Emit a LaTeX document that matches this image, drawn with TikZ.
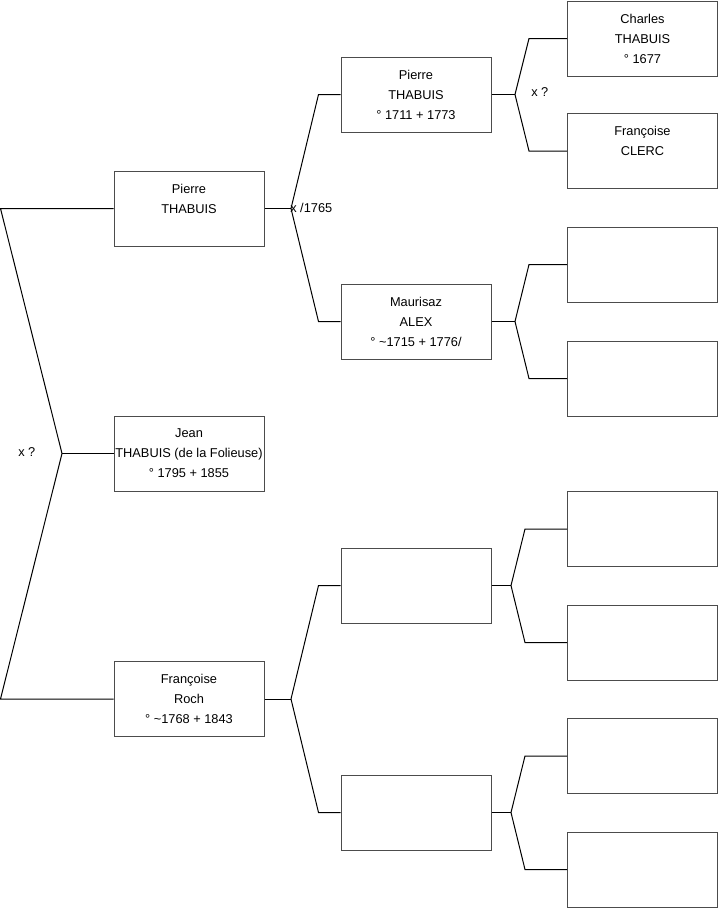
\documentclass[tikz,border=0pt]{standalone}
\usepackage{fontspec}
\setmainfont{Liberation Sans}
\begin{document}
\begin{tikzpicture}[x=.75pt,y=-.75pt,
  person/.style={draw=black!70,line width=.75pt,minimum width=112.5pt,minimum height=56.25pt,
    inner sep=0pt,align=center,font=\fontsize{9.6}{15}\selectfont},
  link/.style={black,line width=.75pt},
  note/.style={anchor=west,inner sep=0pt,font=\fontsize{9.6}{15}\selectfont}]
\useasboundingbox (0,0) rectangle (719,908);
% generation 1
\node[person] (jean) at (189,453.5) {Jean\\THABUIS (de la Folieuse)\\° 1795 + 1855};
% generation 2
\node[person] (pierreA) at (189,208.5) {Pierre\\THABUIS\\\mbox{}};
\node[person] (roch) at (189,699) {Françoise\\Roch\\° \textasciitilde1768 + 1843};
% generation 3
\node[person] (pierreB) at (416,94.5) {Pierre\\THABUIS\\° 1711 + 1773};
\node[person] (alex) at (416,321.5) {Maurisaz\\ALEX\\° \textasciitilde1715 + 1776/};
\node[person] (gpC) at (416,585.5) {};
\node[person] (gpD) at (416,812.5) {};
% generation 4
\node[person] (charles) at (642.5,38.5) {Charles\\THABUIS\\° 1677};
\node[person] (clerc) at (642.5,151) {Françoise\\CLERC\\\mbox{}};
\node[person] (ggpC) at (642.5,264.5) {};
\node[person] (ggpD) at (642.5,378.5) {};
\node[person] (ggpE) at (642.5,529) {};
\node[person] (ggpF) at (642.5,642.5) {};
\node[person] (ggpG) at (642.5,756) {};
\node[person] (ggpH) at (642.5,869.5) {};
% forks
\coordinate (forkJ) at (62,453.5);
\coordinate (forkP) at (291,208.5);
\coordinate (forkR) at (291,699);
\coordinate (forkPB) at (515,94.5);
\coordinate (forkAX) at (515,321.5);
\coordinate (forkC) at (511,585.5);
\coordinate (forkD) at (511,812.5);
\draw[link] (jean.west) -- (forkJ);
\draw[link] (pierreA.west) -- ++(-113,0) -- (forkJ);
\draw[link] (roch.west) -- ++(-113,0) -- (forkJ);
\draw[link] (pierreA.east) -- (forkP);
\draw[link] (pierreB.west) -- ++(-22,0) -- (forkP);
\draw[link] (alex.west) -- ++(-22,0) -- (forkP);
\draw[link] (roch.east) -- (forkR);
\draw[link] (gpC.west) -- ++(-22,0) -- (forkR);
\draw[link] (gpD.west) -- ++(-22,0) -- (forkR);
\draw[link] (pierreB.east) -- (forkPB);
\draw[link] (charles.west) -- ++(-38,0) -- (forkPB);
\draw[link] (clerc.west) -- ++(-38,0) -- (forkPB);
\draw[link] (alex.east) -- (forkAX);
\draw[link] (ggpC.west) -- ++(-38,0) -- (forkAX);
\draw[link] (ggpD.west) -- ++(-38,0) -- (forkAX);
\draw[link] (gpC.east) -- (forkC);
\draw[link] (ggpE.west) -- ++(-42,0) -- (forkC);
\draw[link] (ggpF.west) -- ++(-42,0) -- (forkC);
\draw[link] (gpD.east) -- (forkD);
\draw[link] (ggpG.west) -- ++(-42,0) -- (forkD);
\draw[link] (ggpH.west) -- ++(-42,0) -- (forkD);
% marriages
\node[note] (marJ) at (18,452) {x ?};
\node[note] (marP) at (290,208) {x /1765};
\node[note] (marPB) at (531,92) {x ?};
\end{tikzpicture}
\end{document}
